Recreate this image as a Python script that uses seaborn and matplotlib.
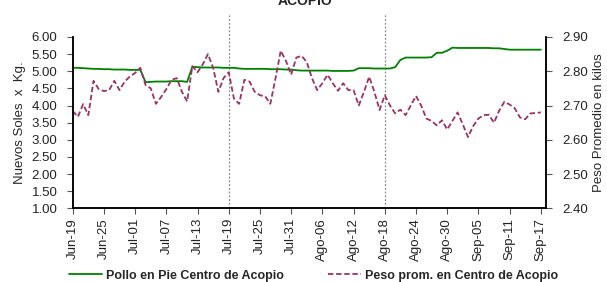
import matplotlib
matplotlib.use("Agg")
import matplotlib.pyplot as plt
import numpy as np
import pandas as pd
import seaborn as sns

# daily series, Jun-19 .. Sep-17
precio_pollo = [5.10, 5.10, 5.09, 5.08, 5.07, 5.07, 5.06, 5.06, 5.05, 5.05,
                5.05, 5.04, 5.04, 5.04, 4.68, 4.69, 4.70, 4.70, 4.70, 4.71,
                4.71, 4.71, 4.69, 5.13, 5.12, 5.11, 5.11, 5.11, 5.11, 5.10,
                5.10, 5.10, 5.08, 5.07, 5.07, 5.07, 5.07, 5.07, 5.06, 5.06,
                5.06, 5.05, 5.05, 5.03, 5.02, 5.02, 5.02, 5.02, 5.02, 5.02,
                5.01, 5.01, 5.01, 5.01, 5.02, 5.09, 5.09, 5.09, 5.08, 5.08,
                5.08, 5.08, 5.12, 5.33, 5.40, 5.40, 5.40, 5.40, 5.40, 5.41,
                5.54, 5.54, 5.60, 5.69, 5.68, 5.68, 5.68, 5.68, 5.68, 5.68,
                5.68, 5.67, 5.67, 5.65, 5.63, 5.63, 5.63, 5.63, 5.63, 5.63,
                5.63]

peso_prom = [2.684, 2.667, 2.704, 2.672, 2.772, 2.748, 2.742, 2.745, 2.772, 2.745,
             2.770, 2.785, 2.795, 2.810, 2.760, 2.750, 2.705, 2.725, 2.748, 2.775,
             2.780, 2.740, 2.712, 2.815, 2.797, 2.820, 2.850, 2.810, 2.740, 2.780,
             2.797, 2.720, 2.705, 2.775, 2.770, 2.740, 2.730, 2.727, 2.705, 2.780,
             2.860, 2.830, 2.790, 2.840, 2.845, 2.827, 2.780, 2.745, 2.765, 2.790,
             2.765, 2.743, 2.765, 2.745, 2.745, 2.700, 2.740, 2.784, 2.740, 2.687,
             2.730, 2.700, 2.677, 2.688, 2.672, 2.700, 2.728, 2.700, 2.662, 2.655,
             2.642, 2.657, 2.630, 2.655, 2.680, 2.645, 2.608, 2.640, 2.662, 2.672,
             2.673, 2.650, 2.685, 2.711, 2.703, 2.692, 2.665, 2.660, 2.677, 2.678,
             2.680]

etiquetas = ["Jun-19", "Jun-25", "Jul-01", "Jul-07", "Jul-13", "Jul-19",
             "Jul-25", "Jul-31", "Ago-06", "Ago-12", "Ago-18", "Ago-24",
             "Ago-30", "Sep-05", "Sep-11", "Sep-17"]
marcas = ["Jul-19", "Ago-18"]

dias = np.arange(len(precio_pollo))
df = pd.DataFrame({"dia": dias, "precio": precio_pollo, "peso": peso_prom})

sns.set_style("white")
plt.rcParams['font.family'] = ['Liberation Sans Narrow', 'Liberation Sans', 'DejaVu Sans']

fig = plt.figure(figsize=(6.07, 2.82), dpi=100)
ax = fig.add_axes([0.1198, 0.2613, 0.7797, 0.6075])
ax2 = ax.twinx()

verde = '#008000'
morado = '#993366'

sns.lineplot(data=df, x="dia", y="precio", ax=ax, color=verde, linewidth=1.3,
             label='Pollo en Pie Centro de Acopio', legend=False)
sns.lineplot(data=df, x="dia", y="peso", ax=ax2, color=morado, linewidth=1.3,
             linestyle=(0, (3, 1.5)), label='Peso prom. en Centro de Acopio', legend=False)

paso = 6
pos_ticks = np.arange(len(etiquetas)) * paso
for m in marcas:
    xm = pos_ticks[etiquetas.index(m)]
    ax.axvline(xm, ymin=0, ymax=1.135, color='#888888', linestyle=(0, (1.5, 1.5)),
               linewidth=0.9, clip_on=False, zorder=0)

ax.set_xlim(0, 91)
ax.set_ylim(1.0, 6.0)
ax2.set_ylim(2.4, 2.9)
ax.set_yticks(np.arange(1.0, 6.01, 0.5))
ax.set_yticklabels([f"{v:.2f}" for v in np.arange(1.0, 6.01, 0.5)])
ax2.set_yticks(np.arange(2.4, 2.901, 0.1))
ax2.set_yticklabels([f"{v:.2f}" for v in np.arange(2.4, 2.901, 0.1)])
ax.set_xticks(pos_ticks)
ax.set_xticklabels(etiquetas, rotation=90)

for a in (ax, ax2):
    a.tick_params(axis='both', direction='out', length=4, width=0.8,
                  color='#555555', labelsize=9.5, labelcolor='#222222', pad=5)
    a.spines['top'].set_visible(False)
    for s in ('left', 'bottom', 'right'):
        a.spines[s].set_color('black')
        a.spines[s].set_linewidth(1.1)
ax.tick_params(axis='x', bottom=True, pad=3)
ax.tick_params(axis='y', left=True, pad=7)
ax2.tick_params(axis='y', right=True, pad=8)

ax.set_xlabel('')
ax.set_ylabel('Nuevos Soles  x  Kg.', fontsize=9.5, labelpad=4)
ax2.set_ylabel('Peso Promedio en kilos', fontsize=9.5, labelpad=3)

fig.text(0.503, 1 - 5 / 282, 'ACOPIO', ha='center', va='baseline',
         fontsize=10, fontweight='bold')

h1, l1 = ax.get_legend_handles_labels()
h2, l2 = ax2.get_legend_handles_labels()
fig.legend(h1 + h2, l1 + l2, loc='center', bbox_to_anchor=(0.5165, 0.022), ncol=2,
           frameon=False, prop={'weight': 'bold', 'size': 9},
           handlelength=2.6, columnspacing=3.6, handletextpad=0.3)

fig.savefig('out.png', dpi=100)
